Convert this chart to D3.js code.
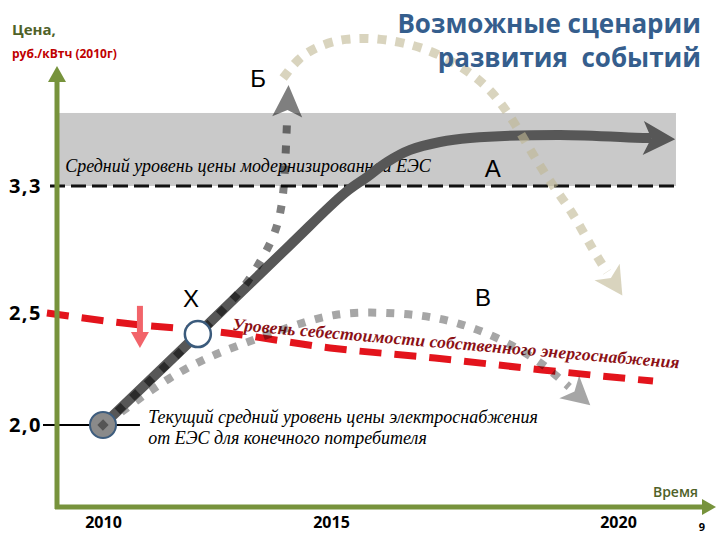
<!DOCTYPE html>
<html>
<head>
<meta charset="utf-8">
<title>Возможные сценарии развития событий</title>
<script src="https://cdnjs.cloudflare.com/ajax/libs/d3/7.8.5/d3.min.js"></script>
<style>
    body { margin: 0; background: #fff; }
    svg { display: block; }
    .tick text { font-family: 'Open Sans', sans-serif; font-weight: bold; fill: #000; }
</style>
</head>
<body>
<div id="chart"></div>
<script>
    // ticks
    const xTicks = [2010, 2015, 2020];
    const yTicks = [2.0, 2.5, 3.3];

    // [year, price] points
    const startPoint = [2010, 2.0];
    const pointX = [2012.08, 2.406];
    const scenarioA = [[2010, 2.0], [2012.08, 2.406], [2014.1, 2.928], [2015.24, 3.256], [2015.63, 3.357],
        [2015.98, 3.451], [2016.38, 3.527], [2016.9, 3.577], [2017.42, 3.602], [2018.99, 3.621], [2020.44, 3.602]];
    const scenarioB = [[2010, 2.0], [2011.47, 2.281], [2012.94, 2.601], [2013.27, 2.739], [2013.55, 2.872],
        [2013.77, 2.998], [2013.9, 3.136], [2013.97, 3.287], [2014.01, 3.527], [2014.04, 3.735]];
    const scenarioBFall = [[2013.95, 3.98], [2014.28, 4.106], [2014.71, 4.182], [2015.24, 4.232], [2015.85, 4.232],
        [2016.55, 4.182], [2017.16, 4.081], [2017.72, 3.936], [2018.12, 3.747], [2018.47, 3.527],
        [2018.85, 3.306], [2019.22, 3.13], [2019.56, 2.897], [2019.81, 2.758]];
    const scenarioV = [[2010.09, 2.009], [2010.75, 2.112], [2011.47, 2.214], [2012.3, 2.304], [2013.11, 2.366],
        [2014.32, 2.455], [2015.1, 2.5], [2015.85, 2.506], [2016.6, 2.491], [2017.25, 2.455],
        [2017.89, 2.393], [2018.52, 2.304], [2018.81, 2.246], [2019.15, 2.17]];
    const ownCost = [[2008.77, 2.5], [2010.44, 2.455], [2012.72, 2.411], [2014.98, 2.344], [2016.81, 2.299],
        [2018.68, 2.246], [2020.61, 2.196]];
    const modernLevel = 3.3;
    const modernBandTop = 3.76;
    const bandYears = [2009.0, 2021.01];
    const downArrow = [2010.81, 2.545, 2.344];

    const width = 720, height = 540;
    const axisX = 57, axisY = 507;

    const svg = d3.select("#chart").append("svg")
        .attr("width", width)
        .attr("height", height);

    // the axis is not to scale in the picture, so piecewise scales
    const x = d3.scaleLinear().domain(xTicks).range([103, 331, 618]);
    const y = d3.scaleLinear().domain(yTicks).range([425, 313, 186]);

    const px = d => [x(d[0]), y(d[1])];
    const line = d3.line().curve(d3.curveBasis);

    function arrowHead(pts, len, hw, notch, fill, opacity) {
        const [x1, y1] = pts[pts.length - 2], [x2, y2] = pts[pts.length - 1];
        const L = Math.hypot(x2 - x1, y2 - y1), ux = (x2 - x1) / L, uy = (y2 - y1) / L;
        const nx = -uy, ny = ux;
        const poly = [
            [x2 + ux * len, y2 + uy * len],
            [x2 + nx * hw, y2 + ny * hw],
            [x2 + ux * notch, y2 + uy * notch],
            [x2 - nx * hw, y2 - ny * hw]
        ];
        svg.append("polygon")
            .attr("points", poly.map(p => p.join(",")).join(" "))
            .attr("fill", fill)
            .attr("fill-opacity", opacity);
    }

    // grey band of modernised grid price
    svg.append("rect")
        .attr("x", x(bandYears[0]))
        .attr("y", y(modernBandTop))
        .attr("width", x(bandYears[1]) - x(bandYears[0]))
        .attr("height", y(modernLevel) - y(modernBandTop))
        .attr("fill", "#c9c9c9");

    svg.append("line")
        .attr("x1", axisX - 7).attr("x2", x(bandYears[1]))
        .attr("y1", y(modernLevel)).attr("y2", y(modernLevel))
        .attr("stroke", "#111").attr("stroke-width", 3)
        .attr("stroke-dasharray", "15,6");

    // current price tick
    svg.append("line")
        .attr("x1", axisX - 14).attr("x2", x(downArrow[0]))
        .attr("y1", y(startPoint[1])).attr("y2", y(startPoint[1]))
        .attr("stroke", "#000").attr("stroke-width", 2);

    svg.append("text")
        .attr("x", x(2009.17)).attr("y", y(3.388))
        .attr("font-family", "'Liberation Serif', serif")
        .attr("font-style", "italic")
        .attr("font-size", 18)
        .text("Средний уровень цены модернизированной ЕЭС");

    // own supply cost (red dashed)
    svg.append("path")
        .attr("d", d3.line().curve(d3.curveMonotoneX)(ownCost.map(px)))
        .attr("fill", "none")
        .attr("stroke", "#e3141c").attr("stroke-width", 7)
        .attr("stroke-dasharray", "22,13");

    svg.append("text")
        .attr("transform", `translate(${x(2012.83)},${y(2.424)}) rotate(4.9)`)
        .attr("font-family", "'Liberation Serif', serif")
        .attr("font-style", "italic")
        .attr("font-weight", "bold")
        .attr("font-size", 17.5)
        .attr("letter-spacing", 0.2)
        .attr("fill", "#8c1116")
        .text("Уровень себестоимости собственного энергоснабжения");

    // scenario В
    const vPts = scenarioV.map(px);
    svg.append("path")
        .attr("d", line(vPts))
        .attr("fill", "none")
        .attr("stroke", "#000").attr("stroke-opacity", 0.35)
        .attr("stroke-width", 8).attr("stroke-dasharray", "8,10");
    arrowHead(vPts, 28, 15, 7, "#000", 0.35);

    // scenario А
    const aPts = scenarioA.map(px);
    const aLast = aPts[aPts.length - 1], aPrev = aPts[aPts.length - 2];
    const aExt = [aLast[0] + 8 * Math.sign(aLast[0] - aPrev[0]), aLast[1]];
    svg.append("path")
        .attr("d", d3.line().curve(d3.curveCatmullRom)(aPts.concat([aExt])))
        .attr("fill", "none")
        .attr("stroke", "#575757").attr("stroke-width", 10);
    arrowHead(aPts, 32, 17, 8, "#575757", 1);

    // scenario Б, up then falling
    const bPts = scenarioB.map(px);
    svg.append("path")
        .attr("d", line(bPts))
        .attr("fill", "none")
        .attr("stroke", "#000").attr("stroke-opacity", 0.5)
        .attr("stroke-width", 8).attr("stroke-dasharray", "8,12");
    arrowHead(bPts, 32, 15, 7, "#000", 0.5);

    const fPts = scenarioBFall.map(px);
    svg.append("path")
        .attr("d", line(fPts))
        .attr("fill", "none")
        .attr("stroke", "#bfb892").attr("stroke-opacity", 0.6)
        .attr("stroke-width", 9).attr("stroke-dasharray", "9,9");
    arrowHead(fPts, 28, 15, 7, "#bfb892", 0.6);

    // red down arrow
    svg.append("line")
        .attr("x1", x(downArrow[0])).attr("x2", x(downArrow[0]))
        .attr("y1", y(downArrow[1])).attr("y2", y(downArrow[2]) - 12)
        .attr("stroke", "#f2646a").attr("stroke-width", 6);
    arrowHead([[x(downArrow[0]), y(downArrow[1])], [x(downArrow[0]), y(downArrow[2]) - 16]], 16, 9, 0, "#f2646a", 1);

    // points
    svg.append("circle")
        .attr("cx", x(startPoint[0])).attr("cy", y(startPoint[1])).attr("r", 13)
        .attr("fill", "#8a8a8a").attr("stroke", "#3e5d7e").attr("stroke-width", 2);
    svg.append("rect")
        .attr("x", x(startPoint[0]) - 4).attr("y", y(startPoint[1]) - 4)
        .attr("width", 8).attr("height", 8)
        .attr("transform", `rotate(-44,${x(startPoint[0])},${y(startPoint[1])})`)
        .attr("fill", "#555");
    svg.append("circle")
        .attr("cx", x(pointX[0])).attr("cy", y(pointX[1])).attr("r", 13)
        .attr("fill", "#fff").attr("stroke", "#3b5b7c").attr("stroke-width", 2.5);

    // axes
    const green = "#77933c";
    svg.append("line")
        .attr("x1", axisX).attr("x2", axisX).attr("y1", axisY + 2).attr("y2", 80)
        .attr("stroke", green).attr("stroke-width", 5);
    svg.append("polygon")
        .attr("points", `${axisX},66 ${axisX - 9},82 ${axisX + 9},82`)
        .attr("fill", green);
    svg.append("line")
        .attr("x1", axisX - 2).attr("x2", 704).attr("y1", axisY).attr("y2", axisY)
        .attr("stroke", green).attr("stroke-width", 5);
    svg.append("polygon")
        .attr("points", `716,${axisY} 702,${axisY - 8} 702,${axisY + 8}`)
        .attr("fill", green);

    const yAxis = svg.append("g")
        .attr("transform", `translate(${axisX},0)`)
        .call(d3.axisLeft(y).tickValues(yTicks).tickSize(0).tickPadding(15)
            .tickFormat(d => d.toFixed(1).replace(".", ",")));
    yAxis.select(".domain").remove();
    yAxis.selectAll("text").attr("font-size", 20).attr("letter-spacing", 1.5);

    const xAxis = svg.append("g")
        .attr("transform", `translate(0,${axisY})`)
        .call(d3.axisBottom(x).tickValues(xTicks).tickSize(0).tickPadding(10).tickFormat(d3.format("d")));
    xAxis.select(".domain").remove();
    xAxis.selectAll("text").attr("font-size", 16);

    // text labels
    const sans = "'Open Sans', sans-serif";
    svg.append("text").attr("x", 12).attr("y", 35)
        .attr("font-family", sans).attr("font-weight", "bold").attr("font-size", 15)
        .attr("fill", "#4f6228").text("Цена,");
    svg.append("text").attr("x", 12).attr("y", 58)
        .attr("font-family", sans).attr("font-weight", "bold").attr("font-size", 12)
        .attr("fill", "#c00000").text("руб./кВтч (2010г)");

    const title = svg.append("text")
        .attr("font-family", sans).attr("font-weight", "bold").attr("font-size", 26)
        .attr("fill", "#355e8d").attr("text-anchor", "end");
    title.append("tspan").attr("x", 701).attr("y", 33).text("Возможные сценарии");
    title.append("tspan").attr("x", 701).attr("y", 67).attr("xml:space", "preserve").text("развития  событий");

    svg.append("text").attr("x", 698).attr("y", 497)
        .attr("font-family", sans).attr("font-weight", 600).attr("font-size", 14)
        .attr("fill", "#4f6228").attr("text-anchor", "end").text("Время");
    svg.append("text").attr("x", 705).attr("y", 531)
        .attr("font-family", sans).attr("font-weight", "bold").attr("font-size", 11)
        .attr("text-anchor", "end").text("9");

    const current = svg.append("text")
        .attr("font-family", "'Liberation Serif', serif")
        .attr("font-style", "italic").attr("font-size", 18);
    current.append("tspan").attr("x", x(2010.99)).attr("y", y(2.009))
        .text("Текущий средний уровень цены электроснабжения");
    current.append("tspan").attr("x", x(2010.99)).attr("y", y(1.915))
        .text("от ЕЭС для конечного потребителя");

    const letters = [
        ["Б", 2013.4, 3.924],
        ["А", 2017.82, 3.357],
        ["Х", 2011.93, 2.538],
        ["В", 2017.65, 2.544]
    ];
    svg.selectAll(".letter").data(letters).enter().append("text")
        .attr("class", "letter")
        .attr("x", d => x(d[1])).attr("y", d => y(d[2]))
        .attr("text-anchor", "middle")
        .attr("font-family", "'Liberation Sans', Arial, sans-serif")
        .attr("font-size", 24)
        .text(d => d[0]);
</script>
</body>
</html>
